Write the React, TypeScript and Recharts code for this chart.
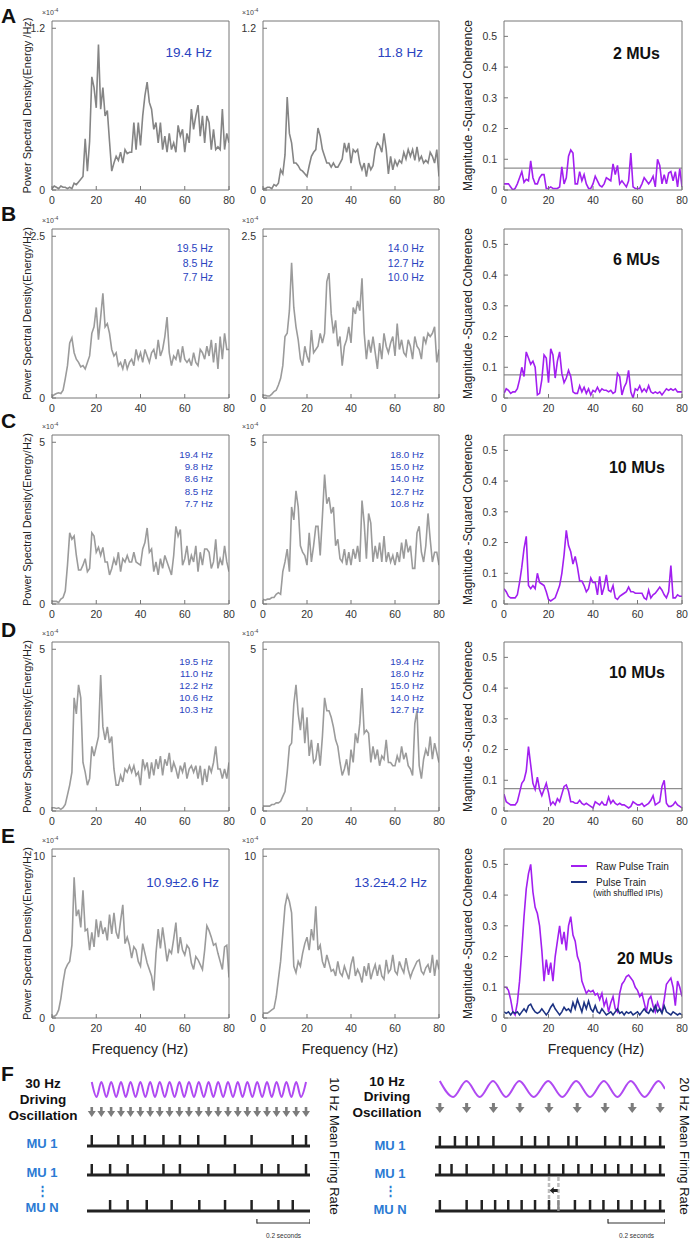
import React from 'react'
import { ComposedChart, Line, Scatter, XAxis, YAxis, ReferenceLine } from 'recharts'

const FONT = "'Liberation Sans', Arial, Helvetica, sans-serif"

// frequency axis (Hz)
const FREQS = [0,1,2,3,4,5,6,7,8,9,10,11,12,13,14,15,16,17,18,19,20,21,22,23,24,25,26,27,28,29,30,31,32,33,34,35,36,37,38,39,40,41,42,43,44,45,46,47,48,49,50,51,52,53,54,55,56,57,58,59,60,61,62,63,64,65,66,67,68,69,70,71,72,73,74,75,76,77,78,79,80]

// power spectral density, x10^-4 energy/Hz
const PSD_A1 = [0.01,0.03,0.02,0.01,0.03,0.02,0.02,0.01,0.02,0.01, 0.05,0.04,0.06,0.08,0.1,0.38,0.14,0.36,0.84,0.76, 0.61,1.08,0.6,0.76,0.55,0.59,0.36,0.14,0.2,0.25, 0.22,0.28,0.2,0.3,0.27,0.28,0.28,0.5,0.3,0.5, 0.33,0.55,0.7,0.8,0.65,0.6,0.45,0.5,0.35,0.5, 0.3,0.4,0.28,0.42,0.3,0.35,0.28,0.48,0.4,0.45, 0.28,0.42,0.35,0.6,0.45,0.55,0.63,0.4,0.55,0.35, 0.55,0.5,0.3,0.45,0.3,0.32,0.3,0.6,0.3,0.42, 0.35]
const PSD_A2 = [0.01,0.01,0.02,0.02,0.01,0.04,0.03,0.05,0.15,0.12, 0.26,0.69,0.42,0.35,0.2,0.2,0.18,0.15,0.14,0.12, 0.1,0.18,0.25,0.28,0.3,0.46,0.4,0.3,0.25,0.2, 0.2,0.17,0.2,0.17,0.17,0.2,0.23,0.35,0.28,0.35, 0.2,0.3,0.28,0.3,0.2,0.15,0.2,0.1,0.2,0.15, 0.18,0.3,0.35,0.33,0.28,0.42,0.3,0.12,0.25,0.15, 0.22,0.18,0.22,0.2,0.28,0.23,0.3,0.25,0.3,0.22, 0.32,0.22,0.25,0.2,0.22,0.2,0.28,0.25,0.2,0.3, 0.1]
const PSD_B1 = [0.02,0.05,0.07,0.08,0.07,0.12,0.3,0.5,0.85,0.93, 0.7,0.6,0.55,0.48,0.5,0.45,0.55,0.65,1.0,1.1, 1.4,0.9,1.25,1.62,1.1,1.15,1.0,0.75,0.65,0.7, 0.5,0.55,0.45,0.6,0.45,0.55,0.6,0.5,0.75,0.6, 0.7,0.55,0.75,0.65,0.55,0.7,0.75,0.6,0.9,0.65, 0.75,0.95,1.25,0.7,0.5,0.65,0.6,0.75,0.55,0.8, 0.6,0.55,0.6,0.5,0.7,0.55,0.5,0.75,0.7,0.6, 0.8,0.65,0.9,0.55,0.85,0.45,0.95,0.6,1.0,0.75, 0.75]
const PSD_B2 = [0.04,0.04,0.03,0.03,0.06,0.1,0.12,0.2,0.3,0.5, 0.95,1.0,1.35,2.09,1.4,1.1,0.9,0.6,0.5,0.8, 0.65,0.55,1.05,0.7,0.75,0.8,1.0,0.85,1.0,1.8, 1.93,1.3,1.0,1.2,0.8,0.95,0.5,0.8,0.9,1.1, 0.85,1.4,1.3,1.5,1.35,1.85,1.0,0.6,0.9,0.7, 0.95,0.7,0.45,0.85,0.6,1.0,0.8,0.7,0.85,0.95, 0.65,1.15,0.75,0.9,0.7,0.65,0.9,0.8,0.6,0.95, 0.8,0.75,0.6,0.95,0.85,1.0,0.95,1.0,1.1,0.55, 0.75]
const PSD_C1 = [0.08,0.08,0.08,0.05,0.15,0.2,0.4,1.2,2.2,2.0, 2.1,1.5,1.05,1.05,1.2,1.4,1.0,1.1,2.2,2.1, 1.6,1.75,1.5,1.75,1.3,1.3,0.9,1.1,1.4,1.2, 1.6,1.0,1.4,1.3,1.5,1.3,1.3,1.6,1.3,1.25, 1.2,1.7,1.9,2.35,1.6,1.7,1.0,1.3,0.9,1.4, 1.1,1.5,1.3,1.1,0.9,1.5,2.4,2.1,2.3,1.2, 1.4,1.8,1.2,1.5,1.3,1.8,1.0,1.6,1.2,1.7, 1.7,1.6,1.1,1.3,2.0,1.1,1.4,1.2,1.8,1.3, 1.0]
const PSD_C2 = [0.15,0.12,0.15,0.15,0.2,0.2,0.3,0.35,0.3,1.0, 1.3,1.7,1.0,3.0,2.6,3.5,3.0,1.8,1.6,1.5, 1.2,2.2,1.3,1.8,2.4,2.4,1.5,2.7,4.0,3.1, 3.3,2.8,3.0,1.8,2.0,1.4,1.3,1.7,1.2,1.6, 1.2,1.7,1.4,1.8,1.3,3.2,2.5,1.4,2.8,2.5, 1.3,1.8,1.4,1.9,1.3,2.1,1.3,1.6,1.3,1.5, 1.2,1.6,1.3,1.9,1.4,2.0,1.6,1.8,1.1,1.1, 2.2,2.4,1.6,1.3,1.8,2.8,2.0,1.3,1.6,1.6, 1.2]
const PSD_D1 = [0.1,0.1,0.08,0.1,0.05,0.1,0.2,0.5,0.8,1.2, 3.5,3.0,3.9,3.5,1.5,1.2,0.8,1.0,2.0,1.7, 2.0,2.3,4.2,2.6,2.2,2.6,2.1,2.3,1.3,0.8, 0.8,1.1,0.9,1.3,1.2,1.4,1.2,1.4,1.1,1.2, 0.8,1.6,1.3,1.5,1.0,1.5,1.1,1.6,1.3,1.7, 1.1,1.6,1.4,1.8,1.2,1.5,1.3,1.0,1.4,1.2, 1.5,1.0,1.3,1.4,1.2,1.4,1.0,1.4,0.8,1.3, 0.9,1.4,1.2,1.5,2.0,1.3,1.3,1.0,1.3,1.0, 1.5]
const PSD_D2 = [0.15,0.15,0.15,0.15,0.2,0.2,0.25,0.25,0.3,0.45, 0.6,1.2,2.0,2.1,3.3,3.9,3.0,2.5,3.2,2.1, 2.9,1.7,2.2,1.5,1.6,2.1,1.4,2.3,3.5,3.1, 3.1,2.9,2.6,2.2,2.0,1.5,1.1,1.3,1.6,1.1, 1.9,1.5,2.4,2.1,2.7,3.8,2.4,2.5,2.4,1.5, 2.0,1.6,1.9,1.4,1.7,1.6,2.2,1.5,1.5,1.4, 1.4,1.7,1.5,2.0,1.6,1.8,1.4,1.3,1.1,2.7, 3.1,1.4,1.0,1.6,1.9,1.7,2.3,1.6,2.1,1.8, 1.5]
const PSD_E1 = [0.1,0.1,0.2,0.5,1.2,2.2,3.0,3.3,3.5,4.5, 8.7,6.3,6.7,5.6,7.9,5.4,5.5,4.2,5.3,4.4, 6.1,5.0,6.0,5.2,5.6,4.8,6.4,5.2,6.5,5.3, 4.9,6.0,7.0,4.6,5.0,4.5,3.7,4.4,4.2,3.5, 3.2,4.6,4.0,3.4,3.0,2.6,1.7,4.0,5.5,4.3, 5.6,4.6,3.5,4.2,4.0,4.9,5.9,4.0,5.0,4.2, 3.9,4.5,4.3,3.4,3.0,3.8,3.6,3.3,3.0,4.2, 5.7,5.4,5.0,4.5,4.6,4.0,3.5,3.0,4.4,4.5, 2.5]
const PSD_E2 = [0.3,0.3,0.3,0.4,0.5,0.6,1.3,2.4,3.5,5.2, 6.9,7.6,7.2,6.5,3.2,2.8,3.5,3.2,4.0,4.6, 5.0,4.2,5.5,4.8,6.9,4.2,4.5,3.5,3.1,3.9, 3.4,2.9,3.0,2.6,3.5,2.8,2.6,3.2,2.8,2.4, 3.3,3.8,2.6,3.0,2.7,2.2,3.2,2.6,3.4,2.4, 2.9,3.3,2.6,3.3,2.6,2.4,3.6,2.8,3.0,3.9, 2.9,2.7,3.5,3.1,2.8,3.7,3.0,2.5,2.9,3.2, 3.5,3.6,2.9,2.7,3.1,3.3,2.8,3.9,2.6,3.6, 3.0]

// magnitude-squared coherence
const COH_A = [0.02,0.02,0.02,0.01,0.0,0.005,0.02,0.04,0.06,0.025, 0.035,0.03,0.095,0.04,0.02,0.02,0.04,0.05,0.05,0.005, 0.005,0.01,0.005,0.005,0.005,0.01,0.075,0.02,0.04,0.11, 0.13,0.12,0.02,0.02,0.06,0.03,0.05,0.02,0.005,0.005, 0.02,0.045,0.03,0.015,0.01,0.02,0.04,0.035,0.03,0.085, 0.05,0.08,0.02,0.03,0.02,0.01,0.03,0.12,0.01,0.005, 0.005,0.005,0.02,0.04,0.03,0.02,0.03,0.045,0.01,0.1, 0.08,0.02,0.05,0.02,0.055,0.06,0.03,0.06,0.01,0.07, 0.01]
const COH_B = [0.015,0.03,0.025,0.015,0.02,0.02,0.03,0.06,0.1,0.07, 0.15,0.13,0.11,0.12,0.1,0.01,0.015,0.06,0.14,0.13, 0.05,0.16,0.14,0.065,0.12,0.15,0.08,0.05,0.065,0.09, 0.07,0.02,0.015,0.015,0.04,0.02,0.035,0.015,0.03,0.01, 0.025,0.02,0.035,0.02,0.03,0.025,0.025,0.02,0.025,0.015, 0.02,0.08,0.07,0.01,0.035,0.05,0.09,0.02,0.0,0.03, 0.025,0.04,0.02,0.03,0.02,0.04,0.02,0.015,0.02,0.015, 0.02,0.01,0.02,0.03,0.025,0.03,0.025,0.03,0.02,0.02, 0.02]
const COH_C = [0.05,0.04,0.025,0.02,0.02,0.02,0.03,0.07,0.12,0.18, 0.22,0.06,0.05,0.06,0.05,0.1,0.07,0.065,0.06,0.04, 0.015,0.01,0.015,0.02,0.04,0.06,0.1,0.16,0.24,0.19, 0.17,0.13,0.155,0.12,0.075,0.075,0.06,0.04,0.05,0.085, 0.07,0.07,0.03,0.09,0.03,0.055,0.095,0.045,0.04,0.06, 0.02,0.015,0.025,0.03,0.035,0.04,0.055,0.04,0.04,0.035, 0.035,0.035,0.035,0.02,0.015,0.045,0.02,0.03,0.035,0.045, 0.055,0.045,0.03,0.02,0.04,0.125,0.02,0.02,0.03,0.025, 0.025]
const COH_D = [0.055,0.03,0.025,0.02,0.02,0.02,0.03,0.06,0.09,0.1, 0.13,0.21,0.15,0.09,0.07,0.11,0.07,0.05,0.07,0.09, 0.06,0.02,0.03,0.02,0.04,0.03,0.055,0.08,0.085,0.065, 0.03,0.03,0.025,0.025,0.035,0.025,0.02,0.025,0.02,0.015, 0.01,0.03,0.025,0.02,0.03,0.02,0.02,0.045,0.025,0.035, 0.025,0.02,0.025,0.02,0.02,0.015,0.01,0.015,0.03,0.025, 0.02,0.02,0.025,0.015,0.02,0.025,0.035,0.05,0.02,0.025, 0.03,0.08,0.1,0.025,0.015,0.015,0.02,0.03,0.02,0.015, 0.01]
const COH_E_RAW = [0.1,0.1,0.09,0.06,0.02,0.01,0.05,0.12,0.22,0.33, 0.42,0.47,0.5,0.41,0.36,0.34,0.3,0.22,0.12,0.19, 0.14,0.18,0.12,0.2,0.25,0.3,0.24,0.28,0.22,0.3, 0.33,0.27,0.25,0.2,0.18,0.12,0.1,0.08,0.09,0.085, 0.09,0.075,0.08,0.06,0.08,0.04,0.06,0.02,0.05,0.07, 0.03,0.02,0.08,0.11,0.12,0.135,0.14,0.13,0.12,0.1, 0.09,0.07,0.08,0.05,0.02,0.06,0.07,0.04,0.02,0.05, 0.03,0.02,0.06,0.11,0.12,0.13,0.1,0.04,0.12,0.1, 0.07]
const COH_E_SHUF = [0.02,0.015,0.02,0.01,0.02,0.015,0.02,0.01,0.02,0.03, 0.02,0.04,0.045,0.03,0.02,0.015,0.02,0.03,0.02,0.01, 0.02,0.035,0.045,0.03,0.02,0.01,0.02,0.035,0.025,0.03, 0.02,0.05,0.03,0.06,0.04,0.02,0.05,0.03,0.055,0.03, 0.02,0.04,0.02,0.015,0.03,0.02,0.01,0.015,0.02,0.01, 0.02,0.03,0.015,0.02,0.01,0.02,0.015,0.02,0.01,0.015, 0.02,0.01,0.02,0.03,0.02,0.015,0.03,0.02,0.04,0.02, 0.03,0.015,0.04,0.02,0.015,0.01,0.02,0.015,0.01,0.015, 0.01]
const COH_THRESHOLD = [0.071, 0.075, 0.073, 0.073, 0.078]

const PSD_TOP_TICK = [1.2, 2.5, 5, 5, 10]
const LEFT_PEAKS = [['19.4 Hz'], ['19.5 Hz', '8.5 Hz', '7.7 Hz'], ['19.4 Hz', '9.8 Hz', '8.6 Hz', '8.5 Hz', '7.7 Hz'], ['19.5 Hz', '11.0 Hz', '12.2 Hz', '10.6 Hz', '10.3 Hz'], ['10.9±2.6 Hz']]
const RIGHT_PEAKS = [['11.8 Hz'], ['14.0 Hz', '12.7 Hz', '10.0 Hz'], ['18.0 Hz', '15.0 Hz', '14.0 Hz', '12.7 Hz', '10.8 Hz'], ['19.4 Hz', '18.0 Hz', '15.0 Hz', '14.0 Hz', '12.7 Hz'], ['13.2±4.2 Hz']]
const MU_COUNTS = ['2 MUs', '6 MUs', '10 MUs', '10 MUs', '20 MUs']
const PANEL_LETTERS = ['A', 'B', 'C', 'D', 'E']

// panel F: times in ms
const WAVE_30_T = [18,36,54,73,91,110,128,146,164,183,201,220,238,256,274,293,311,330,348,366,384,403,421,440,458,476,494,513,531,550,568,586,604,623,641,660,678,696,714,733,751,770,788,806,825]
const WAVE_30_V = [1,-1,1,-1,1,-1,1,-1,1,-1,1,-1,1,-1,1,-1,1,-1,1,-1,1,-1,1,-1,1,-1,1,-1,1,-1,1,-1,1,-1,1,-1,1,-1,1,-1,1,-1,1,-1,1]
const ARROWS_30 = [18,54,91,128,164,201,238,274,311,348,384,421,458,494,531,568,604,641,678,714,751,788,825]
const SPIKES_30 = [
  [18,118,172,218,288,350,419,520,620,775,825],
  [18,87,153,288,350,457,557,658,721,825],
  [87,153,225,319,423,520,620,721,775],
]
const WAVE_10_T = [17,64,111,158,205,251,298,349,400,450,499,548,597,645,692,741,790,813]
const WAVE_10_V = [1,-1,1,-1,1,-1,1,-1,1,-1,1,-1,1,-1,1,-1,1,0]
const ARROWS_10 = [17,111,205,298,400,499,597,692,790]
const SPIKES_10 = [
  [17,70,111,152,205,304,351,398,468,497,597,649,690,737,790],
  [17,58,111,205,251,304,351,400,450,503,550,597,643,690,737,790],
  [17,111,164,211,257,304,351,400,491,544,591,643,690,737,790],
]
const SHIFTED_FROM = [433]
const SHIFTED_TO = [400]
const SCALE_30 = [640, 840]
const SCALE_10 = [607, 807]

const BOX_H = 169
const COL_X = [52, 263, 504]
const COL_W = [176, 175, 177]
const ROW_Y = [21, 229, 435, 642, 849]
const BOX = '#777'
const TICK = { fontSize: 10.5, fill: '#333', fontFamily: FONT }
const PURPLE = '#a21ff0'
const NAVY = '#1c3282'
const NOTE_BLUE = '#2a43c0'
const MU_BLUE = '#2b7bd4'

type Series = { values: number[]; color: string; width: number }

function Spectrum({ x, y, w, lines, yMax, yTicks, rightTicks, thr }: {
  x: number; y: number; w: number; lines: Series[]; yMax: number; yTicks: number[]; rightTicks: number[]; thr?: number
}) {
  const data = FREQS.map((f, i) => {
    const row: Record<string, number> = { f }
    lines.forEach((s, k) => { row['s' + k] = s.values[i] })
    return row
  })
  return (
    <div style={{ position: 'absolute', left: x - 40, top: y - 2 }}>
      <ComposedChart width={w + 50} height={BOX_H + 24} data={data} margin={{ top: 1, right: 8, bottom: 0, left: 0 }}>
        <XAxis dataKey="f" type="number" domain={[0, 80]} ticks={[0, 20, 40, 60, 80]} interval={0} height={22}
          tickSize={-4} tickMargin={11} stroke={BOX} tick={TICK} allowDataOverflow />
        <XAxis xAxisId="top" orientation="top" dataKey="f" type="number" domain={[0, 80]}
          ticks={[0, 10, 20, 30, 40, 50, 60, 70, 80]} interval={0} height={1} tick={false} tickSize={-3} stroke={BOX} allowDataOverflow />
        <YAxis type="number" domain={[0, yMax]} ticks={yTicks} interval={0} width={40} tickSize={-4} tickMargin={11}
          stroke={BOX} tick={TICK} tickFormatter={(v: number) => String(v)} allowDataOverflow />
        <YAxis yAxisId="right" orientation="right" type="number" domain={[0, yMax]} ticks={rightTicks} interval={0}
          width={1} tick={false} tickSize={-3} stroke={BOX} allowDataOverflow />
        {thr != null && <ReferenceLine y={thr} stroke="#8e8e8e" strokeWidth={1.2} />}
        {lines.map((s, k) => (
          <Line key={k} dataKey={'s' + k} type="linear" stroke={s.color} strokeWidth={s.width} dot={false} isAnimationActive={false} />
        ))}
      </ComposedChart>
    </div>
  )
}

function Wave({ x, top, w, tMax, times, values, h }: { x: number; top: number; w: number; tMax: number; times: number[]; values: number[]; h: number }) {
  const data = times.map((t, i) => ({ t, v: values[i] }))
  return (
    <div style={{ position: 'absolute', left: x, top: top - 2 }}>
      <ComposedChart width={w} height={h + 4} data={data} margin={{ top: 2, right: 0, bottom: 2, left: 0 }}>
        <XAxis dataKey="t" type="number" domain={[0, tMax]} hide />
        <YAxis type="number" domain={[-1, 1]} hide />
        <Line dataKey="v" type="monotone" stroke="#b04af2" strokeWidth={2} dot={false} isAnimationActive={false} />
      </ComposedChart>
    </div>
  )
}

function Arrows({ x, cy, w, tMax, times, big }: { x: number; cy: number; w: number; tMax: number; times: number[]; big?: boolean }) {
  const hw = big ? 4.6 : 4
  const sw = big ? 1.5 : 1.3
  const shape = (p: any) => (
    <path d={`M${p.cx - sw} ${p.cy - 5} h${sw * 2} v4 h${hw - sw} l${-hw} 6 l${-hw} -6 h${hw - sw} z`} fill="#7c7c7c" />
  )
  return (
    <div style={{ position: 'absolute', left: x, top: cy - 8 }}>
      <ComposedChart width={w} height={16} margin={{ top: 0, right: 0, bottom: 0, left: 0 }}>
        <XAxis dataKey="t" type="number" domain={[0, tMax]} hide />
        <YAxis dataKey="y" type="number" domain={[-1, 1]} hide />
        <Scatter data={times.map((t) => ({ t, y: 0 }))} shape={shape} isAnimationActive={false} />
      </ComposedChart>
    </div>
  )
}

function SpikeTrain({ x, base, w, tMax, spikes, ghost, shiftFrom, shiftTo }: {
  x: number; base: number; w: number; tMax: number; spikes: number[]; ghost?: number[]; shiftFrom?: number[]; shiftTo?: number[]
}) {
  const spike = (color: string) => (p: any) => (
    <line x1={p.cx} x2={p.cx} y1={p.cy} y2={p.cy - 11} stroke={color} strokeWidth={2.5} />
  )
  const leftArrow = (p: any) => (
    <path d={`M${p.cx - 4} ${p.cy} l4 -3.5 v2 h4 v3 h-4 v2 z`} fill="#222" />
  )
  const marks = shiftFrom && shiftTo ? shiftFrom.map((f, i) => ({ t: (f + shiftTo[i]) / 2, y: 0.6 })) : []
  return (
    <div style={{ position: 'absolute', left: x, top: base - 34 }}>
      <ComposedChart width={w} height={36} margin={{ top: 0, right: 0, bottom: 2, left: 0 }}>
        <XAxis dataKey="t" type="number" domain={[0, tMax]} hide />
        <YAxis dataKey="y" type="number" domain={[0, 1]} hide />
        {shiftFrom && shiftFrom.map((t) => <ReferenceLine key={'f' + t} x={t} stroke="#bdbdbd" strokeWidth={2.5} strokeDasharray="4 2" />)}
        {shiftTo && shiftTo.map((t) => <ReferenceLine key={'t' + t} x={t} stroke="#bdbdbd" strokeWidth={2.5} strokeDasharray="4 2" />)}
        <ReferenceLine y={0} stroke="#222" strokeWidth={3} />
        <Scatter data={spikes.map((t) => ({ t, y: 0 }))} shape={spike('#222')} isAnimationActive={false} />
        {ghost && <Scatter data={ghost.map((t) => ({ t, y: 0 }))} shape={spike('#8a8a8a')} isAnimationActive={false} />}
        {marks.length > 0 && <Scatter data={marks} shape={leftArrow} isAnimationActive={false} />}
      </ComposedChart>
    </div>
  )
}

function ScaleBar({ x, y, w, tMax, span }: { x: number; y: number; w: number; tMax: number; span: number[] }) {
  const data = span.map((t) => ({ t, y: 0 }))
  const end = (p: any) => <line x1={p.cx} x2={p.cx} y1={p.cy + 0.6} y2={p.cy - 4} stroke="#333" strokeWidth={1.2} />
  return (
    <div style={{ position: 'absolute', left: x, top: y - 6 }}>
      <ComposedChart width={w} height={8} data={data} margin={{ top: 0, right: 0, bottom: 2, left: 0 }}>
        <XAxis dataKey="t" type="number" domain={[0, tMax]} hide />
        <YAxis dataKey="y" type="number" domain={[0, 1]} hide />
        <Line dataKey="y" type="linear" stroke="#333" strokeWidth={1.2} dot={false} isAnimationActive={false} />
        <Scatter data={data} shape={end} isAnimationActive={false} />
      </ComposedChart>
    </div>
  )
}

const NOTE_LAYOUT = [
  { cy: 52, step: 0, size: 13.5, r1: 212, r2: 423 },
  { cy: 248.3, step: 14.3, size: 10.5, r1: 213, r2: 424 },
  { cy: 454.3, step: 12.25, size: 9.8, r1: 213, r2: 424 },
  { cy: 661, step: 12.1, size: 9.8, r1: 213, r2: 424 },
  { cy: 882, step: 0, size: 13.5, r1: 219, r2: 427 },
]
const MU_LAYOUT = [{ r: 660, cy: 53 }, { r: 660, cy: 259 }, { r: 665, cy: 467 }, { r: 665, cy: 672 }, { r: 673, cy: 958 }]
const LETTER_BASE = [23, 221, 428, 637, 843]

export default function App() {
  const rows = [
    { l: PSD_A1, r: PSD_A2, c: [COH_A] },
    { l: PSD_B1, r: PSD_B2, c: [COH_B] },
    { l: PSD_C1, r: PSD_C2, c: [COH_C] },
    { l: PSD_D1, r: PSD_D2, c: [COH_D] },
    { l: PSD_E1, r: PSD_E2, c: [COH_E_RAW, COH_E_SHUF] },
  ]
  const cohTicks = [0, 0.1, 0.2, 0.3, 0.4, 0.5]
  return (
    <div style={{ position: 'absolute', left: 0, top: 0, width: 691, height: 1240, background: '#fff', fontFamily: FONT }}>
      {rows.map((row, i) => {
        const top = PSD_TOP_TICK[i]
        const yMax = top * 1.045
        const gray = i === 0 ? '#858585' : '#9b9b9b'
        return (
          <React.Fragment key={i}>
            <Spectrum x={COL_X[0]} y={ROW_Y[i]} w={COL_W[0]} lines={[{ values: row.l, color: gray, width: 1.6 }]}
              yMax={yMax} yTicks={[0, top]} rightTicks={[0, top]} />
            <Spectrum x={COL_X[1]} y={ROW_Y[i]} w={COL_W[1]} lines={[{ values: row.r, color: gray, width: 1.6 }]}
              yMax={yMax} yTicks={[0, top]} rightTicks={[0, top]} />
            <Spectrum x={COL_X[2]} y={ROW_Y[i]} w={COL_W[2]}
              lines={row.c.map((v, k) => ({ values: v, color: k === 0 ? PURPLE : NAVY, width: 1.6 }))}
              yMax={0.55} yTicks={cohTicks} rightTicks={cohTicks} thr={COH_THRESHOLD[i]} />
          </React.Fragment>
        )
      })}

      {/* panel F tracks */}
      <Wave x={87} top={1082} w={223} tMax={840} times={WAVE_30_T} values={WAVE_30_V} h={15} />
      <Arrows x={87} cy={1112} w={223} tMax={840} times={ARROWS_30} />
      {SPIKES_30.map((s, i) => (
        <SpikeTrain key={i} x={87} base={[1146, 1175, 1211][i]} w={223} tMax={840} spikes={s} />
      ))}
      <ScaleBar x={87} y={1223} w={223} tMax={840} span={SCALE_30} />

      <Wave x={435} top={1081} w={230} tMax={807} times={WAVE_10_T} values={WAVE_10_V} h={16} />
      <Arrows x={435} cy={1108} w={230} tMax={807} times={ARROWS_10} big />
      {SPIKES_10.map((s, i) => (
        <SpikeTrain key={i} x={435} base={[1147, 1175, 1211][i]} w={230} tMax={807} spikes={s}
          ghost={i === 2 ? SHIFTED_FROM : undefined}
          shiftFrom={i === 2 ? SHIFTED_FROM : undefined} shiftTo={i === 2 ? SHIFTED_TO : undefined} />
      ))}
      <ScaleBar x={435} y={1223} w={230} tMax={807} span={SCALE_10} />

      <svg width={691} height={1240} style={{ position: 'absolute', left: 0, top: 0, pointerEvents: 'none' }} fontFamily={FONT}>
        {PANEL_LETTERS.map((l, i) => (
          <text key={l} x={1} y={LETTER_BASE[i]} fontSize={21} fontWeight="bold" fill="#111">{l}</text>
        ))}
        <text x={1} y={1081} fontSize={21} fontWeight="bold" fill="#111">F</text>

        {ROW_Y.map((y, i) => (
          <React.Fragment key={'lab' + i}>
            <text transform={`translate(27,${y + BOX_H / 2}) rotate(-90)`} textAnchor="middle" dominantBaseline="central" fontSize={11} fill="#222">
              {i === 0 ? 'Power Spectral Density(Energy /Hz)' : 'Power Spectral Density(Energy/Hz)'}
            </text>
            <text transform={`translate(468,${y + BOX_H / 2}) rotate(-90)`} textAnchor="middle" dominantBaseline="central" fontSize={12} fill="#222">
              Magnitude -Squared Coherence
            </text>
            {[42, 242].map((xx) => (
              <text key={xx} x={xx} y={y - 6} fontSize={7} fill="#444">×10<tspan dy={-3} fontSize={5}>-4</tspan></text>
            ))}
            {LEFT_PEAKS[i].map((t, k) => (
              <text key={'l' + k} x={NOTE_LAYOUT[i].r1} y={NOTE_LAYOUT[i].cy + k * NOTE_LAYOUT[i].step} textAnchor="end"
                dominantBaseline="central" fontSize={NOTE_LAYOUT[i].size} fill={NOTE_BLUE}>{t}</text>
            ))}
            {RIGHT_PEAKS[i].map((t, k) => (
              <text key={'r' + k} x={NOTE_LAYOUT[i].r2} y={NOTE_LAYOUT[i].cy + k * NOTE_LAYOUT[i].step} textAnchor="end"
                dominantBaseline="central" fontSize={NOTE_LAYOUT[i].size} fill={NOTE_BLUE}>{t}</text>
            ))}
            <text x={MU_LAYOUT[i].r} y={MU_LAYOUT[i].cy} textAnchor="end" dominantBaseline="central" fontSize={16} fontWeight="bold" fill="#111">
              {MU_COUNTS[i]}
            </text>
          </React.Fragment>
        ))}

        {/* legend of E coherence */}
        <line x1={571} x2={587} y1={866} y2={866} stroke={PURPLE} strokeWidth={2} />
        <text x={596} y={866} dominantBaseline="central" fontSize={10} fill="#222">Raw Pulse Train</text>
        <line x1={571} x2={587} y1={882} y2={882} stroke={NAVY} strokeWidth={2} />
        <text x={596} y={882} dominantBaseline="central" fontSize={10} fill="#222">Pulse Train</text>
        <text x={593} y={893} dominantBaseline="central" fontSize={8.5} fill="#222">(with shuffled IPIs)</text>

        {[140, 350, 596].map((cx) => (
          <text key={cx} x={cx} y={1054} textAnchor="middle" fontSize={14} fill="#222">Frequency (Hz)</text>
        ))}

        {/* panel F labels */}
        {['30 Hz', 'Driving', 'Oscillation'].map((t, k) => (
          <text key={'l' + t} x={43} y={1083 + k * 16} textAnchor="middle" dominantBaseline="central" fontSize={13.5} fontWeight="bold" fill="#111">{t}</text>
        ))}
        {['10 Hz', 'Driving', 'Oscillation'].map((t, k) => (
          <text key={'r' + t} x={387} y={1081 + k * 15.7} textAnchor="middle" dominantBaseline="central" fontSize={13.5} fontWeight="bold" fill="#111">{t}</text>
        ))}
        {[[42, 1143, 'MU 1'], [42, 1172, 'MU 1'], [42, 1190, '⋮'], [42, 1207, 'MU N'],
          [390, 1145, 'MU 1'], [390, 1173, 'MU 1'], [390, 1190, '⋮'], [390, 1209, 'MU N']].map(([xx, yy, t], k) => (
          <text key={'mu' + k} x={xx as number} y={yy as number} textAnchor="middle" dominantBaseline="central" fontSize={13} fontWeight="bold" fill={MU_BLUE}>{t}</text>
        ))}
        <text transform="translate(334,1146) rotate(90)" textAnchor="middle" dominantBaseline="central" fontSize={13} fill="#111">10 Hz Mean Firing Rate</text>
        <text transform="translate(684,1146) rotate(90)" textAnchor="middle" dominantBaseline="central" fontSize={13} fill="#111">20 Hz Mean Firing Rate</text>
        <text x={283.5} y={1235} textAnchor="middle" dominantBaseline="central" fontSize={6.5} fill="#333">0.2 seconds</text>
        <text x={636.5} y={1235} textAnchor="middle" dominantBaseline="central" fontSize={6.5} fill="#333">0.2 seconds</text>
      </svg>
    </div>
  )
}
